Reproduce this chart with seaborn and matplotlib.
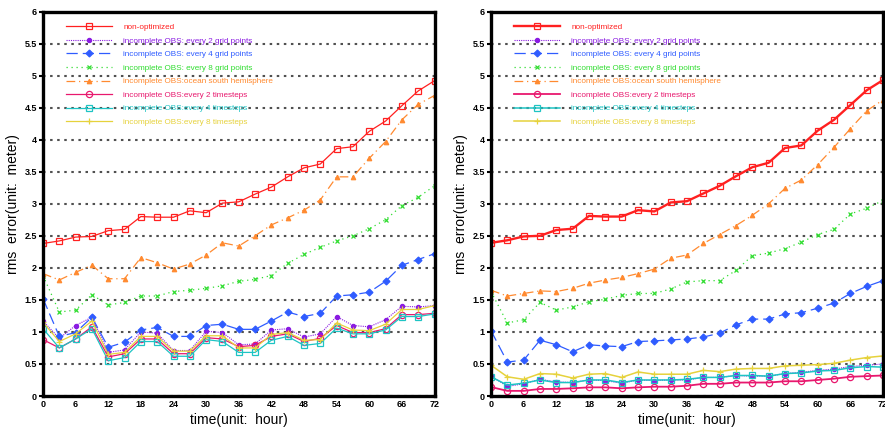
import matplotlib
matplotlib.use("Agg")
import matplotlib.pyplot as plt
from matplotlib.ticker import MultipleLocator, FixedLocator, FixedFormatter
import seaborn as sns
import pandas as pd

hours = [0, 3, 6, 9, 12, 15, 18, 21, 24, 27, 30, 33, 36, 39, 42, 45, 48, 51, 54, 57, 60, 63, 66, 69, 72]

labels = ["non-optimized",
          "incomplete OBS: every 2 grid points",
          "incomplete OBS: every 4 grid points",
          "incomplete OBS: every 8 grid points",
          "incomplete OBS:ocean south hemisphere",
          "incomplete OBS:every 2 timesteps",
          "incomplete OBS:every 4 timesteps",
          "incomplete OBS:every 8 timesteps"]

# ---- left panel ----
left_nonopt = [2.38, 2.42, 2.48, 2.49, 2.58, 2.60, 2.80, 2.79, 2.79, 2.89, 2.86, 3.01, 3.03,
               3.15, 3.26, 3.42, 3.56, 3.62, 3.86, 3.89, 4.13, 4.29, 4.53, 4.76, 4.92]
left_grid2 = [1.17, 0.90, 1.10, 1.23, 0.68, 0.72, 1.00, 0.98, 0.71, 0.71, 1.01, 0.99, 0.80,
              0.81, 1.03, 1.05, 0.92, 0.97, 1.24, 1.10, 1.08, 1.19, 1.40, 1.39, 1.41]
left_grid4 = [1.52, 0.93, 0.99, 1.23, 0.76, 0.84, 1.03, 1.07, 0.93, 0.93, 1.10, 1.12, 1.04,
              1.04, 1.17, 1.31, 1.24, 1.29, 1.56, 1.58, 1.62, 1.79, 2.04, 2.13, 2.22]
left_grid8 = [1.88, 1.31, 1.34, 1.58, 1.42, 1.46, 1.56, 1.56, 1.63, 1.65, 1.68, 1.72, 1.79,
              1.82, 1.88, 2.07, 2.21, 2.32, 2.42, 2.50, 2.61, 2.75, 2.97, 3.10, 3.28]
left_ocean = [1.91, 1.81, 1.93, 2.04, 1.83, 1.83, 2.16, 2.08, 1.98, 2.06, 2.20, 2.39, 2.34,
              2.50, 2.67, 2.78, 2.90, 3.06, 3.42, 3.42, 3.71, 3.97, 4.31, 4.55, 4.69]
left_ts2 = [0.88, 0.75, 0.89, 1.08, 0.61, 0.66, 0.89, 0.89, 0.66, 0.66, 0.91, 0.89, 0.77,
            0.79, 0.93, 0.97, 0.85, 0.90, 1.10, 0.99, 0.99, 1.05, 1.27, 1.27, 1.29]
left_ts4 = [1.05, 0.75, 0.89, 1.05, 0.55, 0.60, 0.85, 0.85, 0.62, 0.62, 0.88, 0.85, 0.68,
            0.68, 0.87, 0.93, 0.79, 0.82, 1.06, 0.97, 0.97, 1.03, 1.24, 1.24, 1.28]
left_ts8 = [1.15, 0.85, 0.97, 1.17, 0.65, 0.68, 0.93, 0.93, 0.70, 0.70, 0.94, 0.94, 0.75,
            0.75, 0.96, 0.99, 0.87, 0.88, 1.14, 1.03, 1.02, 1.12, 1.35, 1.35, 1.41]

# ---- right panel ----
right_nonopt = [2.39, 2.43, 2.49, 2.50, 2.59, 2.61, 2.81, 2.80, 2.80, 2.90, 2.88, 3.02, 3.04,
                3.16, 3.28, 3.43, 3.57, 3.64, 3.87, 3.91, 4.14, 4.31, 4.54, 4.77, 4.93]
right_grid2 = [0.31, 0.15, 0.19, 0.26, 0.22, 0.21, 0.25, 0.24, 0.20, 0.25, 0.24, 0.25, 0.25,
               0.29, 0.29, 0.32, 0.31, 0.31, 0.35, 0.37, 0.40, 0.42, 0.46, 0.48, 0.50]
right_grid4 = [1.02, 0.53, 0.56, 0.87, 0.80, 0.69, 0.80, 0.78, 0.77, 0.85, 0.86, 0.875, 0.89,
               0.92, 0.98, 1.11, 1.20, 1.20, 1.28, 1.30, 1.37, 1.45, 1.60, 1.71, 1.80]
right_grid8 = [1.63, 1.14, 1.19, 1.46, 1.34, 1.39, 1.47, 1.51, 1.57, 1.60, 1.60, 1.67, 1.78,
               1.80, 1.80, 1.96, 2.19, 2.23, 2.30, 2.40, 2.52, 2.60, 2.84, 2.93, 3.05]
right_ocean = [1.65, 1.56, 1.60, 1.64, 1.63, 1.68, 1.76, 1.81, 1.85, 1.91, 1.98, 2.15, 2.20,
               2.38, 2.52, 2.66, 2.82, 3.00, 3.24, 3.37, 3.61, 3.88, 4.17, 4.45, 4.62]
right_ts2 = [0.14, 0.08, 0.08, 0.11, 0.11, 0.12, 0.135, 0.135, 0.12, 0.135, 0.145, 0.145, 0.16,
             0.19, 0.19, 0.21, 0.21, 0.21, 0.23, 0.23, 0.25, 0.27, 0.30, 0.31, 0.32]
right_ts4 = [0.30, 0.17, 0.20, 0.25, 0.21, 0.21, 0.25, 0.25, 0.21, 0.25, 0.25, 0.25, 0.26,
             0.29, 0.29, 0.32, 0.32, 0.31, 0.35, 0.36, 0.39, 0.40, 0.44, 0.46, 0.45]
right_ts8 = [0.48, 0.30, 0.26, 0.35, 0.34, 0.28, 0.34, 0.35, 0.29, 0.375, 0.34, 0.34, 0.34,
             0.40, 0.38, 0.42, 0.43, 0.43, 0.47, 0.48, 0.49, 0.51, 0.56, 0.60, 0.625]

ytick_vals = [0, 0.5, 1, 1.5, 2, 2.5, 3, 3.5, 4, 4.5, 5, 5.5, 6]
ytick_labels = ["0", "0.5", "1", "1.5", "2", "2.5", "3", "3.5", "4", "4.5", "5", "5.5", "6"]
xtick_vals = [0, 6, 12, 18, 24, 30, 36, 42, 48, 54, 60, 66, 72]
xtick_labels = ["0", "6", "12", "18", "24", "30", "36", "42", "48", "54", "60", "66", "72"]

colors = ["#ff2020", "#8a1be2", "#2f5cff", "#30dd30", "#ff8a30", "#e8186e", "#1ec4c4", "#e6d23c"]
styles = [
    dict(linestyle="-", marker="s", ms=5, mfc="none"),
    dict(linestyle=(0, (1, 1)), marker="o", ms=3, mfc=None),
    dict(linestyle=(0, (9, 4)), marker="D", ms=3.5, mfc=None),
    dict(linestyle=(0, (1, 3)), marker="x", ms=3.5, mfc=None),
    dict(linestyle=(0, (7, 3, 1, 3)), marker="^", ms=3.2, mfc=None),
    dict(linestyle="-", marker="o", ms=4.5, mfc="none"),
    dict(linestyle="-", marker="s", ms=4, mfc="none"),
    dict(linestyle="-", marker="+", ms=5, mfc=None),
]

LABEL_FONT = ["Liberation Sans", "DejaVu Sans"]

fig = plt.figure(figsize=(8.85, 4.33), dpi=100)
ax_l = fig.add_axes([43 / 885, 1 - 396 / 433, 391.5 / 885, 384.5 / 433])
ax_r = fig.add_axes([491 / 885, 1 - 396 / 433, 392 / 885, 384.5 / 433])

panels = [
    (ax_l, [left_nonopt, left_grid2, left_grid4, left_grid8, left_ocean, left_ts2, left_ts4, left_ts8],
     [0.9, 0.8, 0.9, 0.9, 0.9, 0.9, 0.9, 0.9]),
    (ax_r, [right_nonopt, right_grid2, right_grid4, right_grid8, right_ocean, right_ts2, right_ts4, right_ts8],
     [1.7, 0.8, 0.9, 0.9, 0.9, 1.3, 1.1, 1.1]),
]

for ax, series, lws in panels:
    for i, vals in enumerate(series):
        df = pd.DataFrame({"hour": hours, "rms": vals})
        st = styles[i]
        kw = dict(color=colors[i], marker=st["marker"], markersize=st["ms"],
                  markeredgecolor=colors[i], markeredgewidth=0.9,
                  linestyle=st["linestyle"], linewidth=lws[i])
        kw["markerfacecolor"] = st["mfc"] if st["mfc"] is not None else colors[i]
        sns.lineplot(data=df, x="hour", y="rms", ax=ax, label=labels[i],
                     errorbar=None, sort=False, **kw)

    ax.set_xlim(0, 72)
    ax.set_ylim(0, 6)
    ax.yaxis.set_major_locator(FixedLocator(ytick_vals))
    ax.yaxis.set_major_formatter(FixedFormatter(ytick_labels))
    ax.xaxis.set_major_locator(FixedLocator(xtick_vals))
    ax.xaxis.set_major_formatter(FixedFormatter(xtick_labels))
    ax.xaxis.set_minor_locator(MultipleLocator(12))
    ax.grid(True, axis="y", which="major", color="#505050", linestyle=(0, (1.2, 2.2)), linewidth=1.5)
    ax.grid(True, axis="x", which="minor", color="#505050", linestyle=(0, (1.2, 2.2)), linewidth=1.5)
    ax.set_axisbelow(True)
    ax.tick_params(axis="x", which="both", length=0, pad=3)
    ax.tick_params(axis="y", which="major", length=3, width=1.5, direction="out", pad=1.5)
    for lab in ax.get_xticklabels() + ax.get_yticklabels():
        lab.set_fontfamily(LABEL_FONT)
        lab.set_fontweight("bold")
        lab.set_fontsize(6.5)
    for sp in ax.spines.values():
        sp.set_linewidth(2.4)
        sp.set_color("black")
    ax.set_xlabel("time(unit:  hour)", fontsize=10, family=["Liberation Sans", "DejaVu Sans"], labelpad=3)
    ax.set_ylabel("rms  error(unit:  meter)", fontsize=10, family=["Liberation Sans", "DejaVu Sans"], labelpad=3)

    ax.legend(loc="upper left", bbox_to_anchor=(0.059, 0.969), frameon=False,
              borderaxespad=0, borderpad=0, handlelength=5.6, handletextpad=1.35,
              labelspacing=0.71, labelcolor="linecolor",
              prop={"family": LABEL_FONT, "size": 5.9})

fig.savefig("out.png", dpi=100)
